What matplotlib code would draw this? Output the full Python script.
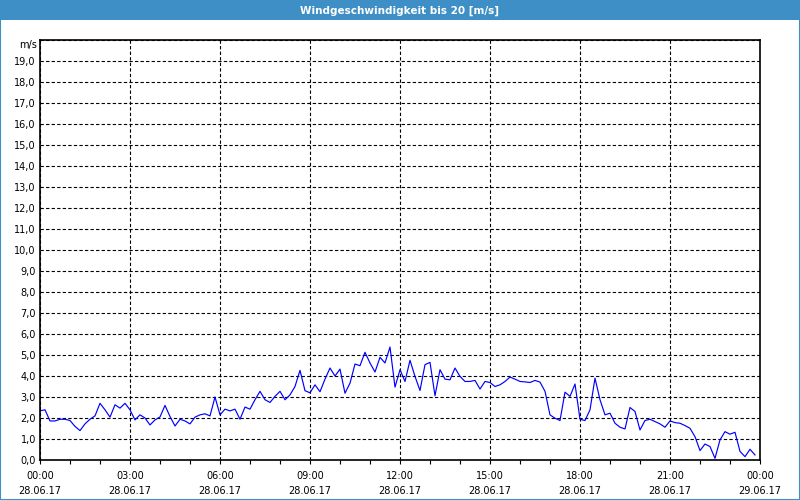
import matplotlib
matplotlib.use("Agg")
from matplotlib import pyplot as plt
from matplotlib.patches import Rectangle
import matplotlib.transforms as mtransforms
import numpy as np

# wind speed [m/s], one value every 10 minutes from 28.06.17 00:00
wind = [2.34, 2.39, 1.86, 1.86, 1.94, 1.94, 1.88, 1.60, 1.40, 1.72, 1.94, 2.10,
        2.70, 2.39, 2.04, 2.63, 2.47, 2.70, 2.39, 1.91, 2.15, 2.00, 1.67, 1.91,
        2.05, 2.60, 2.07, 1.62, 1.94, 1.86, 1.72, 2.04, 2.15, 2.20, 2.10, 3.00,
        2.15, 2.42, 2.34, 2.42, 1.94, 2.52, 2.42, 2.87, 3.27, 2.87, 2.74, 3.03,
        3.27, 2.87, 3.10, 3.50, 4.27, 3.30, 3.20, 3.58, 3.25, 3.85, 4.38, 4.00,
        4.33, 3.18, 3.66, 4.57, 4.49, 5.13, 4.62, 4.19, 4.89, 4.62, 5.38, 3.47,
        4.30, 3.74, 4.75, 3.98, 3.31, 4.54, 4.65, 3.06, 4.30, 3.85, 3.82, 4.38,
        3.98, 3.74, 3.74, 3.79, 3.38, 3.74, 3.69, 3.50, 3.58, 3.74, 3.95, 3.85,
        3.74, 3.72, 3.69, 3.79, 3.71, 3.27, 2.15, 1.99, 1.88, 3.23, 3.03, 3.62,
        1.94, 1.88, 2.39, 3.90, 2.87, 2.15, 2.23, 1.75, 1.56, 1.48, 2.50, 2.31,
        1.43, 1.88, 1.94, 1.83, 1.72, 1.56, 1.86, 1.78, 1.75, 1.64, 1.51, 1.11,
        0.45, 0.76, 0.64, 0.08, 0.96, 1.35, 1.23, 1.32, 0.41, 0.16, 0.51, 0.24]
hours = np.arange(len(wind)) / 6.0

xtick_hours = [0, 3, 6, 9, 12, 15, 18, 21, 24]
xtick_labels = ["00:00\n28.06.17", "03:00\n28.06.17", "06:00\n28.06.17",
                "09:00\n28.06.17", "12:00\n28.06.17", "15:00\n28.06.17",
                "18:00\n28.06.17", "21:00\n28.06.17", "00:00\n29.06.17"]
ytick_vals = list(range(0, 21))
ytick_labels = ["%d,0" % v for v in range(0, 20)] + [""]
unit = "m/s"

title = "Windgeschwindigkeit bis 20 [m/s]"
blue_bar = "#3d8fc6"

plt.rcParams['font.family'] = ['DejaVu Sans']
fig = plt.figure(figsize=(8, 5), dpi=100, facecolor="white")
ax = fig.add_axes([40/800, 40/500, 720/800, 420/500])

ax.plot(hours, wind, color="#0000ff", lw=0.85)

ax.set_xlim(0, 24)
ax.set_ylim(0, 20)
ax.set_xticks(xtick_hours)
ax.set_xticklabels(xtick_labels, fontsize=7, linespacing=1.55)
ax.set_xticks(range(0, 25), minor=True)
ax.set_yticks(ytick_vals)
ax.set_yticklabels(ytick_labels, fontsize=7)
ax.tick_params(axis="x", which="both", direction="out", length=3, width=0.8, pad=5)
ax.tick_params(axis="y", length=0, pad=3)
ax.grid(True, which="major", color="black", linestyle=(0, (3, 2)), lw=0.8)
for s in ax.spines.values():
    s.set_linewidth(1.2)
    s.set_color("black")

# unit label sits a bit below the top edge
trans = mtransforms.blended_transform_factory(ax.transAxes, ax.transData)
ax.text(-0.004, 19.75, unit, transform=trans, ha="right", va="center", fontsize=7)

# title bar and window border
fig.patches.append(Rectangle((0, 0.96), 1, 0.04, transform=fig.transFigure,
                             facecolor=blue_bar, edgecolor="none", zorder=0))
fig.patches.append(Rectangle((0, 0), 1, 1, transform=fig.transFigure,
                             facecolor="none", edgecolor=blue_bar, lw=1.5, zorder=5))
fig.text(0.5, 0.979, title, color="white", fontsize=7.5, fontweight="bold",
         ha="center", va="center")

fig.savefig("out.png", dpi=100)
